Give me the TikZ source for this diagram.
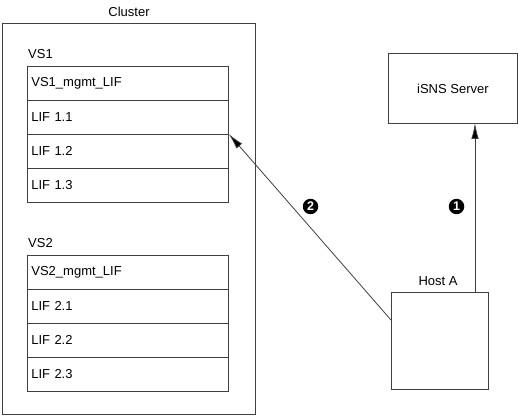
\documentclass[tikz,border=0pt]{standalone}
\usepackage{fontspec}
\setmainfont{Liberation Sans}
\usetikzlibrary{arrows.meta}
\begin{document}
\begin{tikzpicture}[x=1pt,y=-1pt,
  box/.style={draw=black!75,line width=0.8pt,fill=white},
  row/.style={draw=black!75,line width=0.8pt,minimum width=201pt,minimum height=34pt,anchor=north west,inner sep=0pt,text width=193pt,align=left,font=\fontsize{13}{15}\selectfont},
  lbl/.style={font=\fontsize{13}{15}\selectfont,inner sep=0pt},
  num/.style={circle,fill=black,text=white,inner sep=0pt,minimum size=15.5pt,font=\bfseries\fontsize{12.5}{13}\selectfont},
  conn/.style={draw=black!75,line width=0.8pt,-{Latex[length=16pt,width=7.5pt,fill=black]}}]
\useasboundingbox (0,0) rectangle (518,419);
% cluster
\node[box,minimum width=253pt,minimum height=391pt,anchor=north west,inner sep=0pt] (cluster) at (2,23) {};
\node[lbl] (clabel) at (129,12) {Cluster};
% VS1
\node[lbl,anchor=west] (vs1) at (28,54) {VS1};
\node[row] (r11) at (27,66) {VS1\_mgmt\_LIF};
\node[row] (r12) at (27,100) {LIF 1.1};
\node[row] (r13) at (27,134) {LIF 1.2};
\node[row] (r14) at (27,168) {LIF 1.3};
% VS2
\node[lbl,anchor=west] (vs2) at (28,243) {VS2};
\node[row] (r21) at (27,255) {VS2\_mgmt\_LIF};
\node[row] (r22) at (27,289) {LIF 2.1};
\node[row] (r23) at (27,323) {LIF 2.2};
\node[row] (r24) at (27,357) {LIF 2.3};
% iSNS
\node[box,minimum width=129pt,minimum height=70pt,anchor=north west,inner sep=0pt,font=\fontsize{13}{15}\selectfont] (isns) at (388,53) {iSNS Server};
% Host A
\node[box,minimum width=97pt,minimum height=97pt,anchor=north west,inner sep=0pt] (host) at (391,292) {};
\node[lbl] (hlabel) at (438,281) {Host A};
% arrows
\coordinate (h1) at (475,292);
\coordinate (s1) at (475,123);
\coordinate (h2) at (391,320);
\draw[conn] (h1) -- (s1);
\draw[conn] (h2) -- (r13.north east);
\node[num] (n1) at (456.5,206.5) {1};
\node[num] (n2) at (310.5,206.5) {2};
\end{tikzpicture}
\end{document}
